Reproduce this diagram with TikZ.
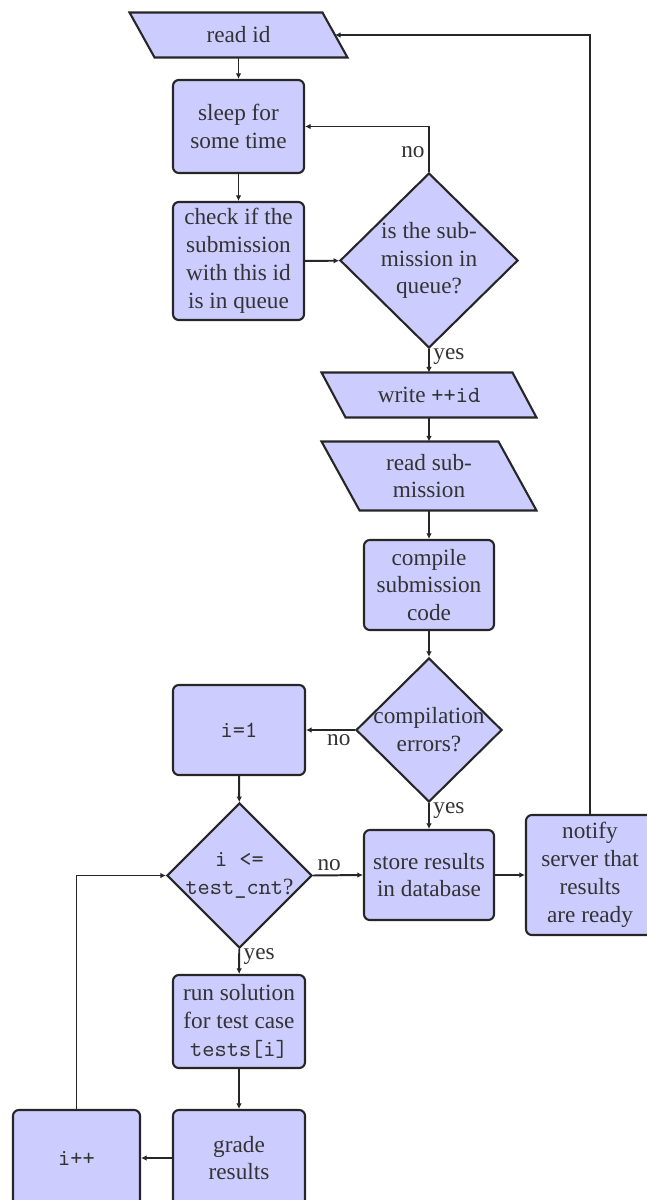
\documentclass[tikz,border=0pt]{standalone}
\usepackage{fontspec}
\setmainfont{Liberation Serif}
\usetikzlibrary{shapes.geometric,arrows.meta,backgrounds}
% one unit of the picture grid
\newcommand\pxu{0.43pt}
% parallelogram body behind an input/output node: #1 node name, #2 slant offset
\newcommand\iopath[2]{%
  \draw[iobody] ([xshift=-#2*\pxu]#1.north west) -- ([xshift=-#2*\pxu]#1.north east)
    -- ([xshift=#2*\pxu]#1.south east) -- ([xshift=#2*\pxu]#1.south west) -- cycle;}
\begin{document}
\begin{tikzpicture}[x=0.43pt,y=-0.43pt,
  every node/.style={text=black!80},
  proc/.style={draw=black!85, fill=blue!20, line width=0.9pt, rounded corners=2.5pt,
    align=center, inner sep=0pt},
  decision/.style={diamond, draw=black!85, fill=blue!20, line width=0.9pt, inner sep=0pt},
  dtext/.style={align=center, inner sep=0pt, text=black!80},
  iobox/.style={align=center, inner sep=0pt},
  iobody/.style={draw=black!85, fill=blue!20, line width=0.9pt},
  conn/.style={draw=black!85, line width=0.85pt, -{Latex[length=2.4pt,width=2.4pt]}},
  lbl/.style={inner sep=1.5pt}
]
\useasboundingbox (0,0) rectangle (646,1200);

% input / output steps
\node[iobox, minimum width=192*\pxu, minimum height=44*\pxu] (readid) at (238.5,35) {read id};
\node[iobox, minimum width=190*\pxu, minimum height=44*\pxu] (write) at (429,395) {write \texttt{++id}};
\node[iobox, minimum width=176*\pxu, minimum height=68*\pxu] (readsub) at (429,476) {read sub-\\mission};
\begin{scope}[on background layer]
  \iopath{readid}{12.5}
  \iopath{write}{12}
  \iopath{readsub}{19}
\end{scope}

% processing steps
\node[proc, minimum width=131*\pxu, minimum height=93*\pxu] (sleep) at (238.5,126.5) {sleep for\\some time};
\node[proc, minimum width=131*\pxu, minimum height=118*\pxu] (check) at (238.5,261) {check if the\\submission\\with this id\\is in queue};
\node[proc, minimum width=130*\pxu, minimum height=90*\pxu] (compile) at (429,585) {compile\\submission\\code};
\node[proc, minimum width=132*\pxu, minimum height=90*\pxu] (init) at (239,730) {\texttt{i=1}};
\node[proc, minimum width=130*\pxu, minimum height=90*\pxu] (store) at (429,875) {store results\\in database};
\node[proc, minimum width=128*\pxu, minimum height=120*\pxu] (notify) at (590,875) {notify\\server that\\results\\are ready};
\node[proc, minimum width=132*\pxu, minimum height=93*\pxu] (run) at (239,1021.5) {run solution\\for test case\\\texttt{tests[i]}};
\node[proc, minimum width=132*\pxu, minimum height=96*\pxu] (grade) at (239,1158) {grade\\results};
\node[proc, minimum width=127*\pxu, minimum height=96*\pxu] (incr) at (76.5,1158) {\texttt{i++}};

% decisions
\node[decision, minimum width=178*\pxu, minimum height=175*\pxu,
  label={[dtext]center:{is the sub-\\mission in\\queue?}}] (inqueue) at (429,260.5) {};
\node[decision, minimum width=146*\pxu, minimum height=144*\pxu,
  label={[dtext]center:{compilation\\errors?}}] (errors) at (429,730) {};
\node[decision, minimum width=145*\pxu, minimum height=145*\pxu,
  label={[dtext]center:{\texttt{i <=}\\\texttt{test\_cnt}?}}] (loop) at (239.5,875.5) {};

% connectors
\draw[conn] (readid) -- (sleep);
\draw[conn] (sleep) -- (check);
\draw[conn] (check) -- (inqueue);
\draw[conn] (inqueue.north) |- node[lbl, pos=0.22, left] {no} (sleep.east);
\draw[conn] (inqueue) -- node[lbl, pos=0.3, right] {yes} (write);
\draw[conn] (write) -- (readsub);
\draw[conn] (readsub) -- (compile);
\draw[conn] (compile) -- (errors);
\draw[conn] (errors.west) -- node[lbl, pos=0, below left] {no} (init.east);
\draw[conn] (errors) -- node[lbl, pos=0.3, right] {yes} (store);
\draw[conn] (init) -- (loop);
\draw[conn] (loop.east) -- node[lbl, pos=0, above right] {no} (store.west);
\draw[conn] (loop) -- node[lbl, pos=0.3, right] {yes} (run);
\draw[conn] (store) -- (notify);
\draw[conn] (notify.north) |- (readid.east);
\draw[conn] (run) -- (grade);
\draw[conn] (grade) -- (incr);
\draw[conn] (incr.north) |- (loop.west);
\end{tikzpicture}
\end{document}
